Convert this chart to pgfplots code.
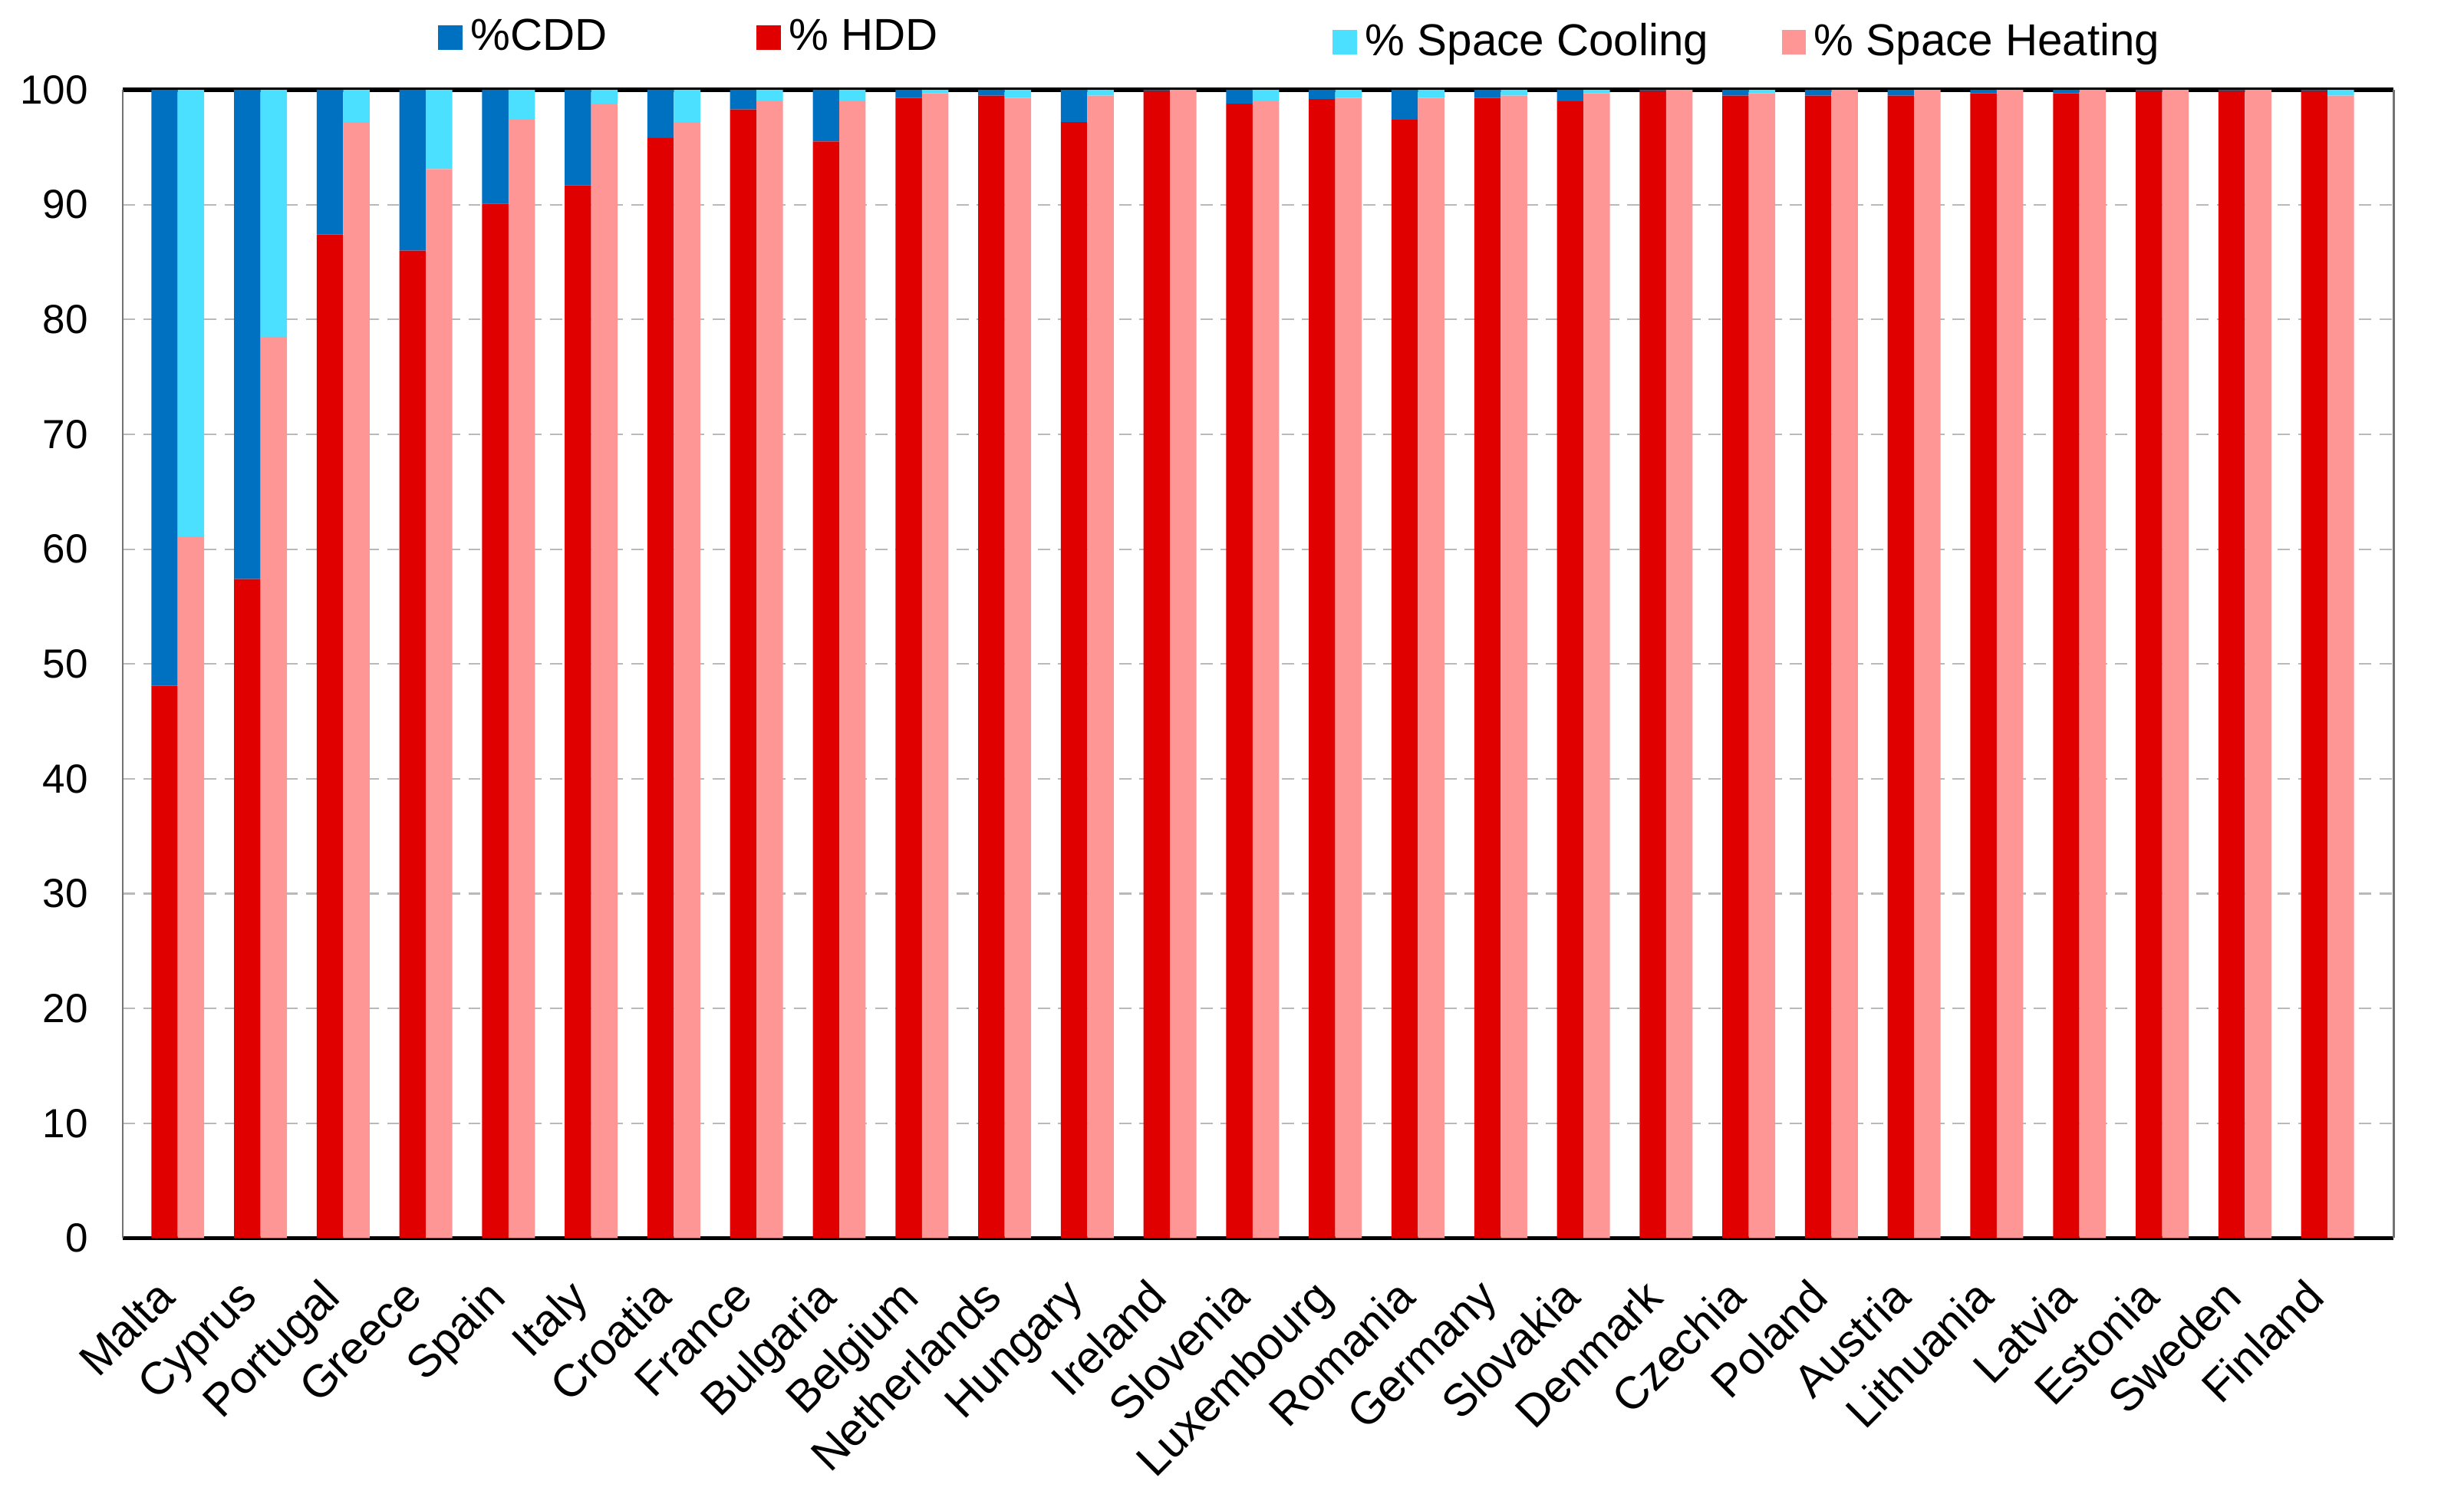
\documentclass[border=0pt]{standalone}
\usepackage{pgfplots}
\usepackage{pgfplotstable}
\usepackage{fontspec}
\setmainfont{Liberation Sans}
\pgfplotsset{compat=1.18}
\definecolor{cddblue}{RGB}{0,112,192}
\definecolor{hddred}{RGB}{224,0,0}
\definecolor{coolcyan}{RGB}{75,224,255}
\definecolor{heatpink}{RGB}{255,150,150}

\pgfplotstableread{
x name hdd cdd heat cool
0 Malta 48.1 51.9 61.1 38.9
1 Cyprus 57.4 42.6 78.5 21.5
2 Portugal 87.4 12.6 97.2 2.8
3 Greece 86.0 14.0 93.1 6.9
4 Spain 90.1 9.9 97.4 2.6
5 Italy 91.7 8.3 98.8 1.2
6 Croatia 95.8 4.2 97.2 2.8
7 France 98.3 1.7 99.0 1.0
8 Bulgaria 95.5 4.5 99.0 1.0
9 Belgium 99.3 0.7 99.7 0.3
10 Netherlands 99.5 0.5 99.3 0.7
11 Hungary 97.2 2.8 99.5 0.5
12 Ireland 99.9 0.1 100 0
13 Slovenia 98.8 1.2 99.0 1.0
14 Luxembourg 99.2 0.8 99.3 0.7
15 Romania 97.4 2.6 99.3 0.7
16 Germany 99.3 0.7 99.5 0.5
17 Slovakia 99.0 1.0 99.7 0.3
18 Denmark 99.9 0.1 100 0
19 Czechia 99.5 0.5 99.7 0.3
20 Poland 99.5 0.5 100 0
21 Austria 99.5 0.5 100 0
22 Lithuania 99.7 0.3 100 0
23 Latvia 99.7 0.3 100 0
24 Estonia 99.9 0.1 100 0
25 Sweden 99.9 0.1 100 0
26 Finland 99.9 0.1 99.5 0.5
}\data

\pgfplotsset{
  common/.style={
    at={(0,0)}, anchor=south west,
    scale only axis, width=558.5pt, height=282.3pt,
    xmin=-0.665, xmax=26.8, ymin=0, ymax=100,
    ybar stacked, bar width=0.32,
    legend style={draw=none, fill=none, inner sep=0pt,
      font=\fontsize{11}{13}\selectfont, legend columns=-1,
      /tikz/every even column/.append style={column sep=34.6pt}},
  },
}

\begin{document}
\begin{tikzpicture}
\begin{axis}[common,
  bar shift=-0.16,
  xtick={0,...,26},
  xticklabels from table={\data}{name},
  x tick label style={rotate=45, anchor=north east, font=\fontsize{11.2}{13}\selectfont, xshift=-7.4pt, yshift=1pt},
  ytick={0,10,...,100},
  y tick label style={font=\fontsize{10}{12}\selectfont, xshift=-5pt},
  /pgf/number format/assume math mode=true,
  major tick length=0pt,
  ymajorgrids, grid style={densely dashed, gray!55, line width=0.4pt},
  separate axis lines,
  x axis line style={black, line width=1pt},
  y axis line style={gray!90!black, line width=0.5pt},
  legend style={at={(0.1386,1.0453)}, anchor=west},
]
\addplot[fill=hddred, draw=none, forget plot] table[x=x, y=hdd]{\data};
\addplot[fill=cddblue, draw=none, forget plot] table[x=x, y=cdd]{\data};
\addlegendimage{legend image code/.code={\fill[cddblue] (0pt,-2.8pt) rectangle (5.6pt,2.8pt);}}
\addlegendentry{\%CDD}
\addlegendimage{legend image code/.code={\fill[hddred] (0pt,-2.8pt) rectangle (5.6pt,2.8pt);}}
\addlegendentry{\% HDD}
\end{axis}
\begin{axis}[common,
  bar shift=0.16,
  hide axis,
  legend style={at={(0.5325,1.0414)}, anchor=west,
    /tikz/every even column/.append style={column sep=16pt}},
]
\addplot[fill=heatpink, draw=none, forget plot] table[x=x, y=heat]{\data};
\addplot[fill=coolcyan, draw=none, forget plot] table[x=x, y=cool]{\data};
\addlegendimage{legend image code/.code={\fill[coolcyan] (0pt,-2.8pt) rectangle (5.6pt,2.8pt);}}
\addlegendentry{\% Space Cooling}
\addlegendimage{legend image code/.code={\fill[heatpink] (0pt,-2.8pt) rectangle (5.6pt,2.8pt);}}
\addlegendentry{\% Space Heating}
\end{axis}
\pgfresetboundingbox
\path (-30.2pt,-62.1pt) rectangle (575.8pt,304.4pt);
\end{tikzpicture}
\end{document}
